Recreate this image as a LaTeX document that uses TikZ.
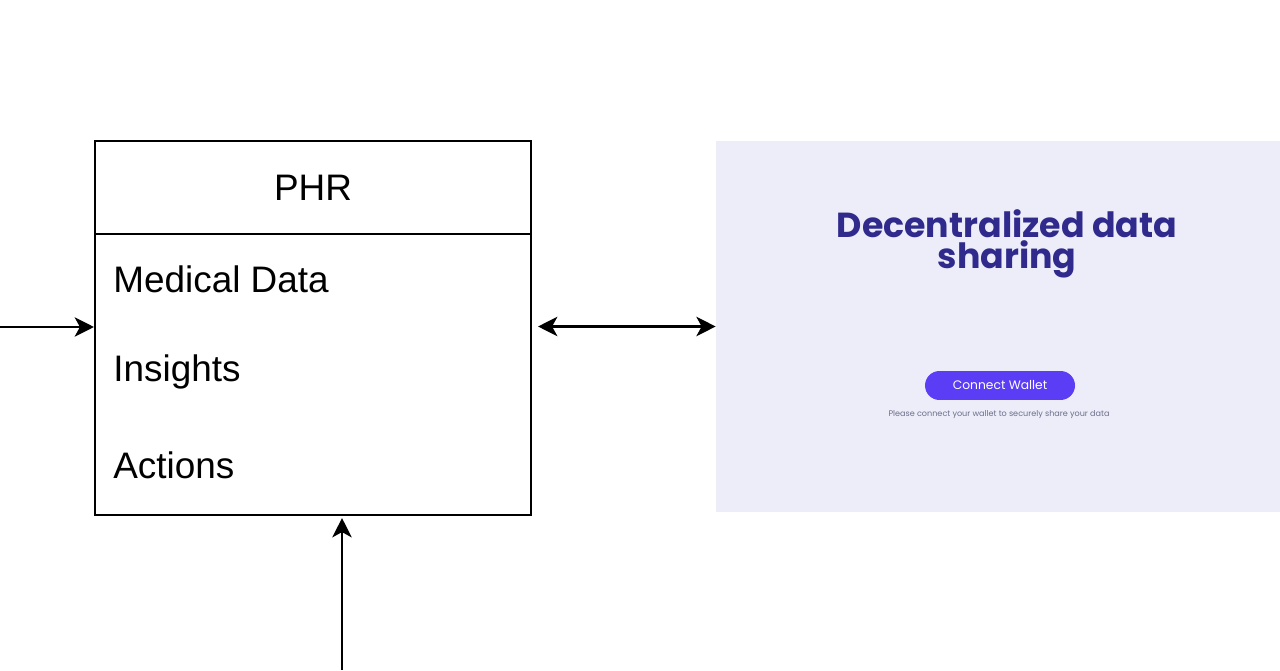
\documentclass[tikz,border=0pt]{standalone}
\usepackage{fontspec}
\setmainfont{Liberation Sans}
\newfontfamily\titlefont{Poppins}
\usepackage{tikz}
\usetikzlibrary{arrows.meta, positioning}

\definecolor{panelbg}{HTML}{ECEDF8}
\definecolor{titleblue}{HTML}{2F2A8C}
\definecolor{btnpurple}{HTML}{5B3DF5}
\definecolor{notegray}{HTML}{6E6E8C}

\tikzset{
  box/.style={draw, line width=1.2pt, minimum width=8.72cm, inner sep=0pt},
  item/.style={anchor=west, inner sep=0pt, font=\fontsize{21}{24}\selectfont},
  link/.style={line width=1.2pt, arrows={-Stealth[length=11pt, width=11pt, inset=3pt]}},
  dlink/.style={line width=1.2pt, arrows={Stealth[length=11pt, width=11pt, inset=3pt]-Stealth[length=11pt, width=11pt, inset=3pt]}},
}

\begin{document}
\begin{tikzpicture}[x=0.02cm, y=0.02cm]
    \useasboundingbox (0,0) rectangle (1280,670);

    % PHR box
    \node[box, minimum height=1.86cm, font=\fontsize{21}{24}\selectfont] (phr) at (313,482.5) {PHR};
    \node[box, minimum height=5.62cm] (phrbody) at (313,295.5) {};
    \node[item] (medical) at (113,391) {Medical Data};
    \node[item] (insights) at (113,298) {Insights};
    \node[item] (actions) at (113,205) {Actions};

    % dapp screenshot
    \node[fill=panelbg, minimum width=11.28cm, minimum height=7.42cm, inner sep=0pt] (dapp) at (998,343.5) {};
    \node[text=titleblue, align=center, font={\titlefont\bfseries\fontsize{19.8}{18}\selectfont}] (title) at (1007,426) {Decentralized data\\sharing};
    \node[fill=btnpurple, text=white, rounded corners=0.29cm, minimum width=3cm, minimum height=0.58cm, inner sep=0pt, font={\titlefont\fontsize{7}{8}\selectfont}] (connect) at (1000,284.5) {Connect Wallet};
    \node[text=notegray, font={\titlefont\fontsize{4.6}{5}\selectfont}] (note) at (999,255) {Please connect your wallet to securely share your data};

    % arrows
    \coordinate (inL) at (0,343);
    \coordinate (inB) at (342,0);
    \draw[link] (inL) -- (inL -| phrbody.west);
    \draw[dlink] ([xshift=0.12cm]phrbody.east |- dapp.west) -- (dapp.west);
    \draw[link] (inB) -- ([yshift=-0.04cm]inB |- phrbody.south);
\end{tikzpicture}
\end{document}
